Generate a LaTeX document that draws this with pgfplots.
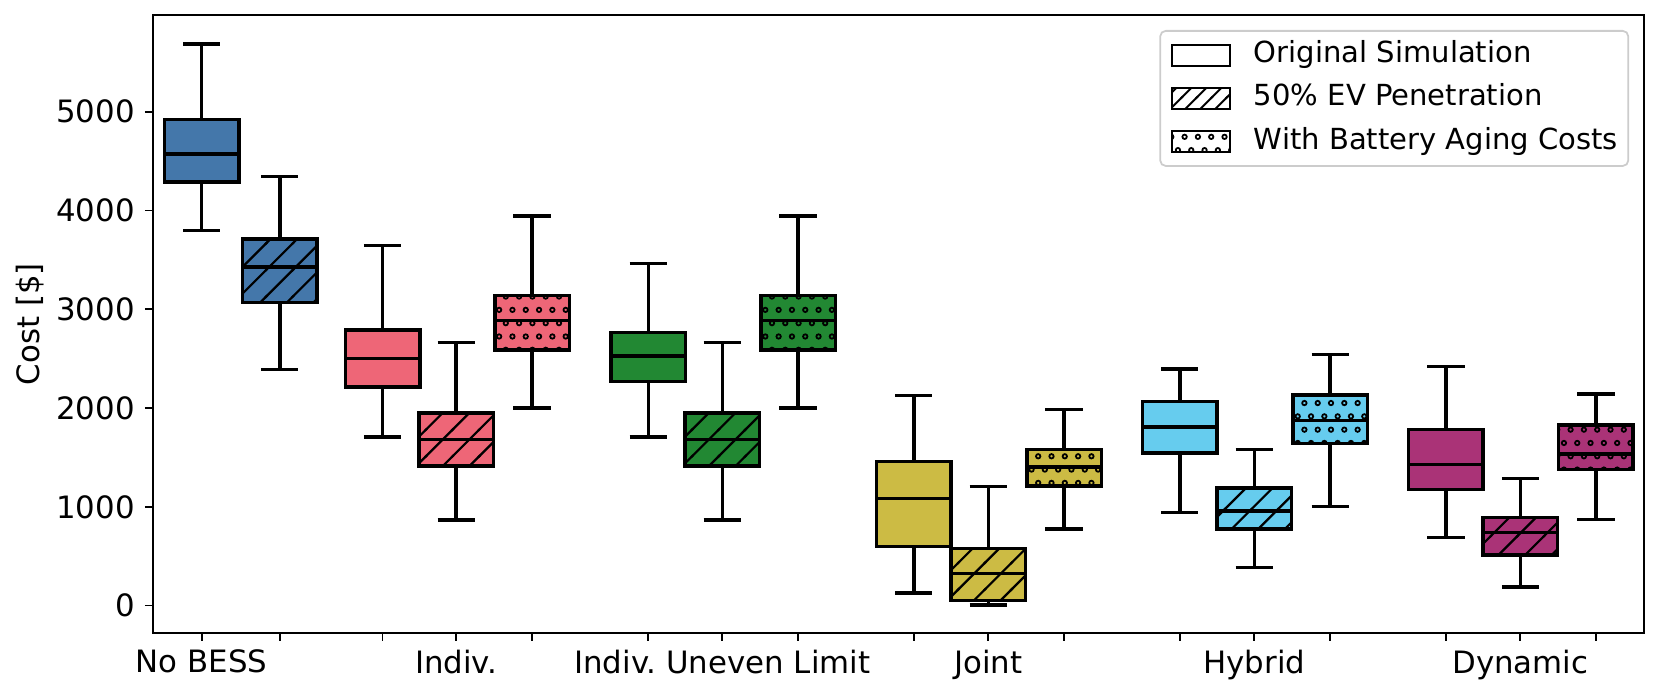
\documentclass[border=0pt]{standalone}
\usepackage{fontspec}
\setmainfont{DejaVu Sans}
\usepackage{pgfplots}
\pgfplotsset{compat=1.18}
\usetikzlibrary{patterns}

\definecolor{cB}{HTML}{4477AA}
\definecolor{cR}{HTML}{EE6677}
\definecolor{cG}{HTML}{228833}
\definecolor{cY}{HTML}{CCBB44}
\definecolor{cC}{HTML}{66CCEE}
\definecolor{cP}{HTML}{AA3377}

\pgfdeclarepatternformonly{hatchNE}{\pgfqpoint{-1pt}{-1pt}}{\pgfqpoint{13.1pt}{13.1pt}}{\pgfqpoint{12.1pt}{12.1pt}}{%
  \pgfsetlinewidth{1pt}%
  \pgfpathmoveto{\pgfqpoint{-0.5pt}{-0.5pt}}%
  \pgfpathlineto{\pgfqpoint{12.6pt}{12.6pt}}%
  \pgfusepath{stroke}%
}
\pgfdeclarepatternformonly{hatchNEs}{\pgfqpoint{-1pt}{-1pt}}{\pgfqpoint{7.8pt}{7.8pt}}{\pgfqpoint{6.8pt}{6.8pt}}{%
  \pgfsetlinewidth{0.9pt}%
  \pgfpathmoveto{\pgfqpoint{-0.5pt}{-0.5pt}}%
  \pgfpathlineto{\pgfqpoint{7.3pt}{7.3pt}}%
  \pgfusepath{stroke}%
}
\pgfdeclarepatternformonly{rings}{\pgfqpoint{-1.7pt}{-1.7pt}}{\pgfqpoint{7.8pt}{13.8pt}}{\pgfqpoint{6.05pt}{12.1pt}}{%
  \pgfsetlinewidth{0.8pt}%
  \pgfpathcircle{\pgfqpoint{0pt}{0pt}}{1pt}%
  \pgfpathcircle{\pgfqpoint{3.025pt}{6.05pt}}{1pt}%
  \pgfusepath{stroke}%
}

% #1 position, #2 colour, #3 pattern option, #4..#8 lower whisker, lower quartile, median, upper quartile, upper whisker
\newcommand{\bx}[8]{%
  \pgfmathsetmacro\bxl{#1-0.14}\pgfmathsetmacro\bxr{#1+0.14}%
  \pgfmathsetmacro\bcl{#1-0.07}\pgfmathsetmacro\bcr{#1+0.07}%
  \addplot[black, line width=1.6pt, unbounded coords=jump] coordinates
    {(#1,#4) (#1,#5) (nan,nan) (#1,#7) (#1,#8) (nan,nan) (\bcl,#4) (\bcr,#4) (nan,nan) (\bcl,#8) (\bcr,#8)};
  \addplot[fill=#2, draw=none] coordinates {(\bxl,#5) (\bxr,#5) (\bxr,#7) (\bxl,#7)} -- cycle;
  \addplot[draw=black, line width=1.6pt, #3] coordinates {(\bxl,#5) (\bxr,#5) (\bxr,#7) (\bxl,#7)} -- cycle;
  \addplot[black, line width=1.6pt] coordinates {(\bxl,#6) (\bxr,#6)};
}

\begin{document}
\begin{tikzpicture}
\begin{axis}[
  scale only axis,
  width=677.9pt, height=281pt,
  xmin=-0.141, xmax=5.465,
  ymin=-279, ymax=5979,
  axis line style={line width=0.8pt},
  tick style={line width=0.8pt, black},
  major tick length=3.5pt,
  tick align=outside,
  tick pos=left,
  xtick={0.043,0.337,0.723,1.0,1.285,1.722,2.0,2.285,2.72,3.0,3.285,3.72,4.0,4.285,4.72,5.0,5.284},
  xticklabels={No BESS,{},{},Indiv.,{},{},{Indiv.\ Uneven Limit},{},{},Joint,{},{},Hybrid,{},{},Dynamic,{}},
  ytick={0,1000,2000,3000,4000,5000},
  /pgf/number format/assume math mode=true,
  /pgf/number format/1000 sep={},
  ticklabel style={font=\fontsize{14}{16.8}\selectfont},
  yticklabel style={inner sep=0pt, anchor=east, xshift=-4.5pt},
  xticklabel style={inner sep=0pt, anchor=north, yshift=-4pt},
  ylabel={Cost [\$]},
  ylabel style={at={(axis description cs:-0.0823,0.5)}, anchor=center, inner sep=0pt, font=\fontsize{14}{16.8}\selectfont},
  legend style={at={(0.990,0.9757)}, anchor=north east, draw=black!20, line width=0.8pt,
    rounded corners=2.5pt, fill=white, font=\fontsize{13.2}{15.8}\selectfont,
    inner xsep=4.7pt, inner ysep=5pt, row sep=7.4pt, column sep=10.5pt,
    nodes={inner sep=0pt, text height=9.5pt, text depth=2.7pt}},
  legend cell align=left,
]
\addlegendimage{legend image code/.code={\draw[sharp corners, line width=1pt, draw=black, fill=white] (0pt,-4.8pt) rectangle (26.4pt,4.8pt);}}
\addlegendentry{Original Simulation}
\addlegendimage{legend image code/.code={\draw[sharp corners, line width=1pt, draw=black, pattern=hatchNEs] (0pt,-4.8pt) rectangle (26.4pt,4.8pt);}}
\addlegendentry{50\% EV Penetration}
\addlegendimage{legend image code/.code={\draw[sharp corners, line width=1pt, draw=black, pattern=rings] (0pt,-4.8pt) rectangle (26.4pt,4.8pt);}}
\addlegendentry{With Battery Aging Costs}

% No BESS
\bx{0.043}{cB}{}{3796}{4290}{4569}{4921}{5687}
\bx{0.337}{cB}{pattern=hatchNE}{2390}{3067}{3430}{3709}{4344}
% Indiv.
\bx{0.723}{cR}{}{1707}{2215}{2502}{2790}{3644}
\bx{1.0}{cR}{pattern=hatchNE}{867}{1415}{1680}{1950}{2664}
\bx{1.285}{cR}{pattern=rings}{1999}{2588}{2888}{3140}{3942}
% Indiv. Uneven Limit
\bx{1.722}{cG}{}{1707}{2269}{2525}{2767}{3464}
\bx{2.0}{cG}{pattern=hatchNE}{867}{1415}{1680}{1950}{2664}
\bx{2.285}{cG}{pattern=rings}{1999}{2588}{2888}{3140}{3942}
% Joint
\bx{2.72}{cY}{}{130}{597}{1083}{1460}{2125}
\bx{3.0}{cY}{pattern=hatchNE}{4}{54}{323}{580}{1204}
\bx{3.285}{cY}{pattern=rings}{773}{1213}{1402}{1581}{1986}
% Hybrid
\bx{3.72}{cC}{}{943}{1545}{1806}{2066}{2394}
\bx{4.0}{cC}{pattern=hatchNE}{386}{773}{957}{1190}{1581}
\bx{4.285}{cC}{pattern=rings}{1002}{1640}{1873}{2134}{2543}
% Dynamic
\bx{4.72}{cP}{}{687}{1177}{1429}{1783}{2421}
\bx{5.0}{cP}{pattern=hatchNE}{189}{512}{741}{894}{1285}
\bx{5.284}{cP}{pattern=rings}{872}{1379}{1536}{1828}{2143}
\end{axis}
\pgfresetboundingbox
\path ([shift={(-69.4pt,-28.5pt)}]current axis.south west) rectangle ([shift={(7.7pt,6.8pt)}]current axis.north east);
\end{tikzpicture}
\end{document}
